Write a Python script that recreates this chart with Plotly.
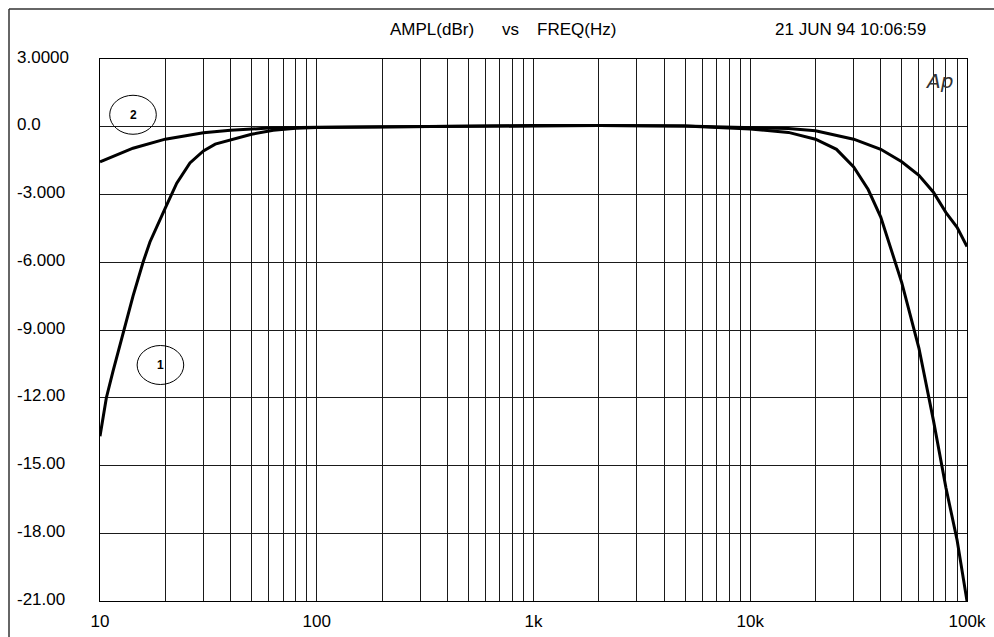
import math
import plotly.graph_objects as go

# ---- data ----
freq_1 = [10, 10.7, 11.5, 12.8, 14.2, 15.8, 17, 20, 22.6, 26, 30, 34, 40, 50, 63, 80, 100,
          200, 500, 1000, 2000, 5000, 10000, 15000, 20000, 25000, 30000, 35000, 40000,
          50000, 60000, 70000, 80000, 90000, 100000]
ampl_1 = [-13.7, -12.0, -10.8, -9.1, -7.5, -6.0, -5.1, -3.6, -2.5, -1.6, -1.07, -0.77, -0.58,
          -0.33, -0.16, -0.07, -0.03, 0.0, 0.03, 0.05, 0.05, 0.03, -0.1, -0.25, -0.55, -1.0,
          -1.78, -2.78, -4.0, -6.9, -9.8, -13.0, -16.0, -18.3, -21.0]

freq_2 = [10, 14.2, 20, 30, 40, 60, 100, 200, 500, 1000, 2000, 5000, 10000, 15000, 20000,
          30000, 40000, 50000, 60000, 70000, 80000, 90000, 100000]
ampl_2 = [-1.55, -0.95, -0.55, -0.27, -0.15, -0.06, -0.02, 0.0, 0.03, 0.05, 0.05, 0.03, -0.03,
          -0.08, -0.18, -0.55, -1.0, -1.55, -2.15, -2.9, -3.8, -4.45, -5.3]

x_major = [10, 100, 1000, 10000, 100000]
x_major_text = ["10", "100", "1k", "10k", "100k"]
x_minor = [m * d for d in [10, 100, 1000, 10000] for m in range(2, 10)]
y_ticks = [3, 0, -3, -6, -9, -12, -15, -18, -21]
y_tick_text = ["3.0000", "0.0", "-3.000", "-6.000", "-9.000", "-12.00", "-15.00", "-18.00", "-21.00"]

# curve labels: (text, centre freq, centre dB)
curve_labels = [("2", 14.2, 0.53), ("1", 19.0, -10.55)]

W, H = 994, 637
L, R, T, B = 100, 27, 59, 36
FONT = "Liberation Sans, Arial, sans-serif"
FS = 17
GRID = "#1a1a1a"

fig = go.Figure()
for f, a in [(freq_1, ampl_1), (freq_2, ampl_2)]:
    fig.add_trace(go.Scatter(x=f, y=a, mode="lines",
                             line=dict(color="black", width=3), showlegend=False,
                             hoverinfo="skip"))

fig.update_layout(
    width=W, height=H, autosize=False,
    margin=dict(l=L, r=R, t=T, b=B, pad=0),
    paper_bgcolor="white", plot_bgcolor="white",
    font=dict(family=FONT, size=FS, color="black"),
    xaxis=dict(type="log", range=[1, 5], tickmode="array", tickvals=x_major,
               ticktext=x_major_text, showgrid=True, gridcolor=GRID, gridwidth=1,
               minor=dict(tickmode="array", tickvals=x_minor, showgrid=True,
                          gridcolor=GRID, gridwidth=1, ticks=""),
               ticks="", ticklen=0, showline=True, linecolor="black", linewidth=1,
               mirror=True, zeroline=False, tickfont=dict(size=FS, family=FONT),
               ticklabelstandoff=5, automargin=False),
    yaxis=dict(range=[-21, 3], tickmode="array", tickvals=y_ticks, showticklabels=False,
               showgrid=True, gridcolor=GRID, gridwidth=1, ticks="",
               showline=True, linecolor="black", linewidth=1, mirror=True,
               zeroline=False, automargin=False),
)

pw = W - L - R
ph = H - T - B

shapes = []
# outer frame (top and left edges)
shapes.append(dict(type="line", xref="paper", yref="paper",
                   x0=(9 - L) / pw, x1=(W + 5 - L) / pw,
                   y0=(H - B - 9) / ph, y1=(H - B - 9) / ph,
                   line=dict(color="#333", width=1.5)))
shapes.append(dict(type="line", xref="paper", yref="paper",
                   x0=(9 - L) / pw, x1=(9 - L) / pw,
                   y0=(H - B - 9) / ph, y1=-(B + 5) / ph,
                   line=dict(color="#333", width=1.5)))
# blank area for the Ap logo (grid lines interrupted)
shapes.append(dict(type="rect", xref="paper", yref="paper", layer="between",
                   x0=(910 - L) / pw, x1=(965 - L) / pw,
                   y0=(H - B - 96) / ph, y1=(H - B - T - 0.8) / ph,
                   fillcolor="white", line=dict(width=0)))

# curve label ellipses
half_dec = 23.3 / (pw / 4)   # half width in decades
half_db = 19.5 / (ph / 24)   # half height in dB
for txt, fc, db in curve_labels:
    lc = math.log10(fc)
    shapes.append(dict(type="circle", xref="x", yref="y",
                       x0=10 ** (lc - half_dec), x1=10 ** (lc + half_dec),
                       y0=db - half_db, y1=db + half_db,
                       line=dict(color="black", width=1), fillcolor="rgba(0,0,0,0)"))
fig.update_layout(shapes=shapes)

ann = []
for txt, fc, db in curve_labels:
    ann.append(dict(x=math.log10(fc), y=db, xref="x", yref="y", text="<b>" + txt + "</b>",
                    showarrow=False, font=dict(size=12, family=FONT)))
for v, t in zip(y_ticks, y_tick_text):
    ann.append(dict(x=(15 - L) / pw, y=v, xref="paper", yref="y", text=t, xanchor="left",
                    yanchor="middle", showarrow=False, yshift=2,
                    font=dict(size=FS, family=FONT)))
top_y = (H - B - 29) / ph
for txt, px in [("AMPL(dBr)", 388), ("vs", 500), ("FREQ(Hz)", 535), ("21 JUN 94 10:06:59", 773)]:
    ann.append(dict(x=(px - L) / pw, y=top_y, xref="paper", yref="paper", text=txt,
                    xanchor="left", yanchor="middle", showarrow=False,
                    font=dict(size=FS, family=FONT)))
ann.append(dict(x=(939 - L) / pw, y=(H - B - 81) / ph, xref="paper", yref="paper",
                text="<i>Ap</i>", showarrow=False, xanchor="center", yanchor="middle",
                font=dict(size=20, family="DejaVu Sans, sans-serif", color="#333")))
fig.update_layout(annotations=ann)

fig.write_html("out.html", config={"displayModeBar": False},
               post_script="document.body.style.margin='0';document.body.style.overflow='hidden';")
